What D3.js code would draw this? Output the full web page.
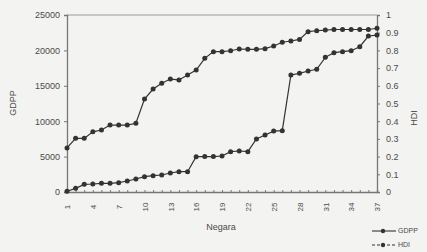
<!DOCTYPE html>
<html>
<head>
<meta charset="utf-8">
<script src="https://cdn.jsdelivr.net/npm/d3@7"></script>
<style>
  body { margin: 0; background: #f3f3f1; }
  svg { display: block; }
  text { font-family: "Liberation Sans", Arial, sans-serif; fill: #4a4a4a; }
</style>
</head>
<body>
<svg id="chart" width="427" height="252"></svg>
<script>
// categories (Negara 1..37)
const negara = d3.range(1, 38);
const xTickLabels = [1, 4, 7, 10, 13, 16, 19, 22, 25, 28, 31, 34, 37];

// GDPP, left axis
const gdpp = [100, 520, 1080, 1130, 1230, 1230, 1320, 1550, 1840, 2170,
  2310, 2400, 2680, 2870, 2870, 4990, 5000, 5000, 5080, 5700,
  5790, 5700, 7490, 8050, 8600, 8660, 16530, 16760, 17090, 17330,
  19020, 19680, 19820, 19960, 20520, 22030, 22170];

// HDI, right axis
const hdi = [0.249, 0.303, 0.303, 0.34, 0.35, 0.378, 0.378, 0.378, 0.388, 0.525,
  0.582, 0.614, 0.638, 0.633, 0.661, 0.689, 0.755, 0.793, 0.793, 0.798,
  0.808, 0.806, 0.806, 0.81, 0.825, 0.846, 0.853, 0.862, 0.906, 0.911,
  0.915, 0.918, 0.918, 0.918, 0.918, 0.918, 0.925];

const gdppTicks = [0, 5000, 10000, 15000, 20000, 25000];
const hdiTicks = [0, 0.1, 0.2, 0.3, 0.4, 0.5, 0.6, 0.7, 0.8, 0.9, 1];

const svg = d3.select('#chart');
const margin = { top: 15, right: 50, bottom: 60, left: 67 };
const width = 427, height = 252;

const x = d3.scalePoint().domain(negara).range([margin.left, width - margin.right]);
const yL = d3.scaleLinear().domain([0, 25000]).range([height - margin.bottom, margin.top]);
const yR = d3.scaleLinear().domain([0, 1]).range([height - margin.bottom, margin.top]);

// plot frame top line
svg.append('line')
  .attr('x1', margin.left).attr('x2', width - margin.right)
  .attr('y1', margin.top).attr('y2', margin.top)
  .attr('stroke', '#9a9a9a').attr('stroke-width', 1);

const axisColor = '#777';

const gLeft = svg.append('g')
  .attr('transform', `translate(${margin.left},0)`)
  .call(d3.axisLeft(yL).tickValues(gdppTicks).tickSize(3).tickPadding(4).tickFormat(d3.format('d')));

const gRight = svg.append('g')
  .attr('transform', `translate(${width - margin.right},0)`)
  .call(d3.axisRight(yR).tickValues(hdiTicks).tickSize(3).tickPadding(6).tickFormat(d => d === 0 || d === 1 ? d : d3.format('.1f')(d)));

const gBottom = svg.append('g')
  .attr('transform', `translate(0,${height - margin.bottom})`)
  .call(d3.axisBottom(x).tickSize(-2).tickPadding(6).tickFormat(d => xTickLabels.includes(d) ? d : ''));

[gLeft, gRight, gBottom].forEach(g => {
  g.selectAll('path, line').attr('stroke', axisColor);
  g.select('.domain').attr('stroke-width', 1.3);
  g.selectAll('text').style('font-size', '9px').attr('fill', '#4a4a4a');
});

gBottom.selectAll('text')
  .style('font-size', '8px')
  .attr('transform', 'rotate(-90)')
  .attr('text-anchor', 'middle')
  .attr('dy', '0.35em')
  .attr('y', 0)
  .attr('x', -15);

// axis titles
svg.append('text').attr('transform', 'translate(16,103) rotate(-90)')
  .attr('text-anchor', 'middle').style('font-size', '9px').text('GDPP');
svg.append('text').attr('transform', `translate(417,118) rotate(-90)`)
  .attr('text-anchor', 'middle').style('font-size', '9px').text('HDI');
svg.append('text').attr('x', 221).attr('y', 230)
  .attr('text-anchor', 'middle').style('font-size', '9px').text('Negara');

const lineColor = '#333';

function drawSeries(values, y) {
  const line = d3.line().x((d, i) => x(negara[i])).y(d => y(d));
  svg.append('path').datum(values)
    .attr('d', line).attr('fill', 'none')
    .attr('stroke', lineColor).attr('stroke-width', 1.2);
  svg.append('g').selectAll('circle').data(values).join('circle')
    .attr('cx', (d, i) => x(negara[i])).attr('cy', d => y(d))
    .attr('r', 2.5).attr('fill', lineColor);
}

drawSeries(gdpp, yL);
drawSeries(hdi, yR);

// legend
const legend = [
  { name: 'GDPP', dash: null },
  { name: 'HDI', dash: '3,2' }
];
const lg = svg.append('g').attr('transform', 'translate(372,231)');
legend.forEach((d, i) => {
  const g = lg.append('g').attr('transform', `translate(0,${i * 14})`);
  g.append('line').attr('x1', 0).attr('x2', 24).attr('y1', 0).attr('y2', 0)
    .attr('stroke', lineColor).attr('stroke-width', 1.1)
    .attr('stroke-dasharray', d.dash);
  g.append('circle').attr('cx', 11).attr('cy', 0).attr('r', 2.2).attr('fill', lineColor);
  g.append('text').attr('x', 26).attr('y', 0).attr('dy', '0.35em')
    .style('font-size', '7px').text(d.name);
});
</script>
</body>
</html>
